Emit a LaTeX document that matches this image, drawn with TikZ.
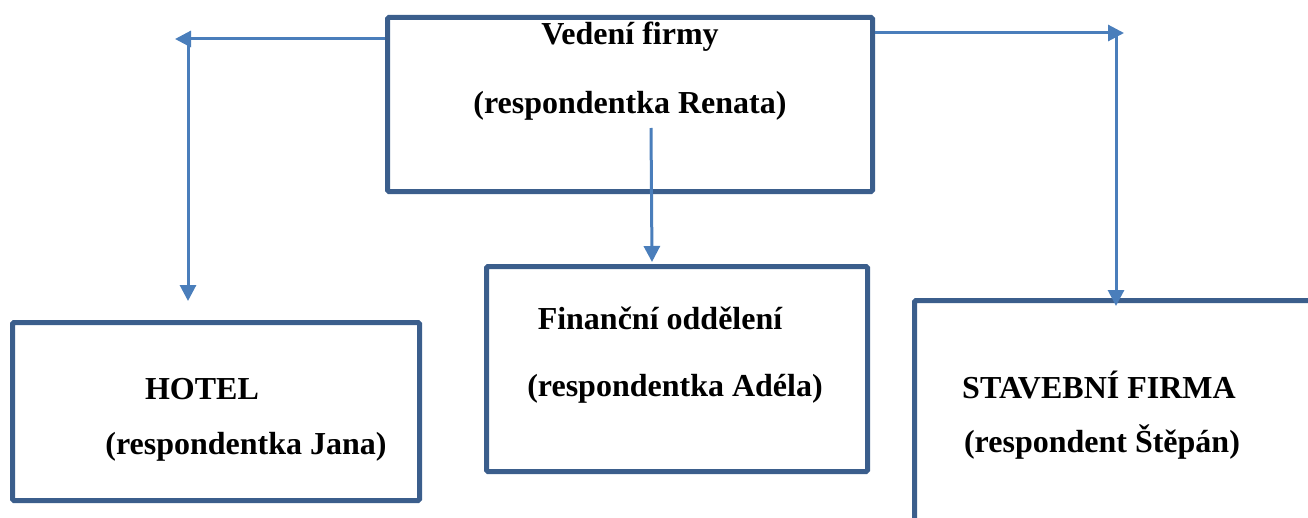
\documentclass[tikz,border=0pt]{standalone}
\usepackage{fontspec}
\setmainfont{Liberation Serif}
\usetikzlibrary{arrows.meta, calc}
\definecolor{boxblue}{RGB}{59,94,140}
\definecolor{arrowblue}{RGB}{74,126,187}

\begin{document}
\begin{tikzpicture}[
  x=1bp, y=-1bp,
  box/.style={draw=boxblue, line width=5bp, rounded corners=1.5bp,
              inner sep=0pt, anchor=north west},
  lbl/.style={anchor=base, inner sep=0pt,
              font=\fontsize{32bp}{38bp}\selectfont\bfseries},
  arr/.style={draw=arrowblue, line width=3bp,
              -{Triangle[length=16bp, width=16bp]}}
]
  \path[use as bounding box, clip] (0,0) rectangle (1308,518);

  % Boxes
  \node[box, minimum width=485bp, minimum height=174bp] (vedeni) at (385,15) {};
  \node[box, minimum width=407bp, minimum height=178bp] (hotel) at (10,320) {};
  \node[box, minimum width=381bp, minimum height=205bp] (financni) at (484,264) {};
  \node[box, minimum width=440bp, minimum height=260bp] (stavebni) at (912,298) {};

  % Texts
  \node[lbl] (vedenit) at (630,45) {Vedení firmy};
  \node[lbl] (vedenir) at (630,114) {(respondentka Renata)};
  \node[lbl] (hotelt) at (202,399) {HOTEL};
  \node[lbl] (hotelr) at (246,454) {(respondentka Jana)};
  \node[lbl] (financnit) at (660,329) {Finanční oddělení};
  \node[lbl] (financnir) at (675,396) {(respondentka Adéla)};
  \node[lbl] (stavebnit) at (1099,398) {STAVEBNÍ FIRMA};
  \node[lbl] (stavebnir) at (1102,452) {(respondent Štěpán)};

  % Arrow ends
  \coordinate (lhead) at (175,39);
  \coordinate (hotelin) at (188,301);
  \coordinate (midstart) at (651,128);
  \coordinate (financniin) at (652,262);
  \coordinate (rhead) at (1124,33);
  \coordinate (stavebniin) at (1116,306);

  % Arrows
  \draw[arr] (vedeni.west |- lhead) -- (lhead);
  \draw[arr] ($(hotelin |- lhead)+(0,3)$) -- (hotelin);
  \draw[arr] (midstart) -- (financniin);
  \draw[arr] (vedeni.east |- rhead) -- (rhead);
  \draw[arr] ($(stavebniin |- rhead)+(0,3)$) -- (stavebniin);
\end{tikzpicture}
\end{document}
